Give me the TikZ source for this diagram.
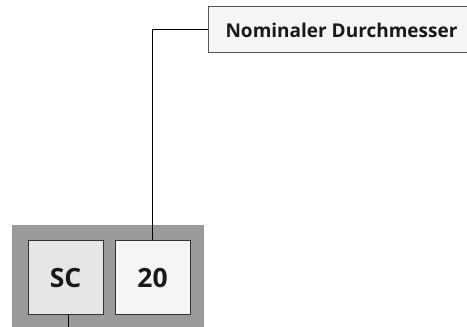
\documentclass[tikz,border=0pt]{standalone}
\usepackage{fontspec}
\setmainfont{Open Sans}
\definecolor{bggray}{HTML}{9A9A9A}
\definecolor{scfill}{HTML}{E6E6E6}
\definecolor{lightfill}{HTML}{F5F5F5}
\definecolor{edge}{HTML}{333333}
\definecolor{labeledge}{HTML}{555555}
\begin{document}
\begin{tikzpicture}[x=1pt,y=1pt,
  codebox/.style={draw=edge,line width=1pt,minimum width=75pt,minimum height=74pt,inner sep=0pt,font=\fontsize{26.5}{30}\selectfont\bfseries,text=black!90},
  labelbox/.style={draw=labeledge,line width=1pt,fill=lightfill,minimum width=267pt,minimum height=46pt,inner sep=0pt,font=\fontsize{19}{22}\selectfont\bfseries,text=black!90},
  conn/.style={draw=black,line width=1pt}]
\useasboundingbox (0,0) rectangle (467,327);
\fill[bggray] (12,0) rectangle (204,102);
\node[codebox,fill=scfill] (sc) at (65.5,49) {SC};
\node[codebox,fill=lightfill] (n20) at (152.5,49) {20};
\node[labelbox] (lab) at (341.5,297) {Nominaler Durchmesser};
\coordinate (scend) at (68,0);
\draw[conn] (n20.north -| 152,0) |- (lab.west);
\draw[conn] (sc.south -| scend) -- (scend);
\end{tikzpicture}
\end{document}
